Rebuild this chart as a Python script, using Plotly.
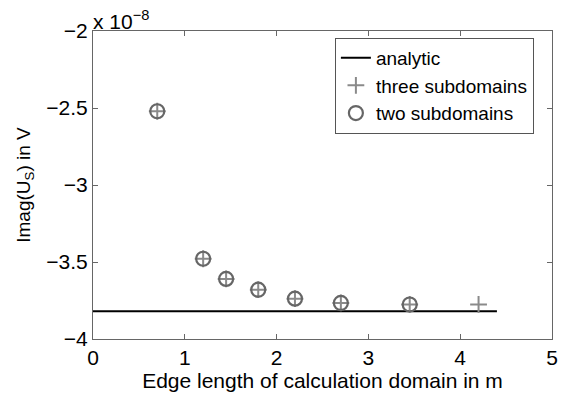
import plotly.graph_objects as go

# Data (values in V)
x_two = [0.7, 1.2, 1.45, 1.8, 2.2, 2.7, 3.45]
y_two = [-2.521e-8, -3.479e-8, -3.610e-8, -3.680e-8, -3.738e-8, -3.766e-8, -3.776e-8]
x_three = [0.7, 1.2, 1.45, 1.8, 2.2, 2.7, 3.45, 4.2]
y_three = [-2.521e-8, -3.479e-8, -3.610e-8, -3.680e-8, -3.738e-8, -3.766e-8, -3.776e-8, -3.776e-8]
x_analytic = [0.0, 4.4]
y_analytic = [-3.819e-8, -3.819e-8]

x_ticks = [0, 1, 2, 3, 4, 5]
y_ticks = [-4e-8, -3.5e-8, -3e-8, -2.5e-8, -2e-8]
y_ticktext = ["\u22124", "\u22123.5", "\u22123", "\u22122.5", "\u22122"]

FONT = "Liberation Sans, Arial, Helvetica, sans-serif"

fig = go.Figure()
fig.add_trace(go.Scatter(x=x_analytic, y=y_analytic, mode="lines", name="analytic",
                         line=dict(color="black", width=2)))
fig.add_trace(go.Scatter(x=x_three, y=y_three, mode="markers", name="three subdomains",
                         marker=dict(symbol="cross-thin-open", size=12, color="#8a8a8a",
                                     line=dict(color="#8a8a8a", width=2))))
fig.add_trace(go.Scatter(x=x_two, y=y_two, mode="markers", name="two subdomains",
                         marker=dict(symbol="circle-open", size=14, color="#666666",
                                     line=dict(color="#666666", width=2.2))))

axis_common = dict(ticks="inside", ticklen=5, tickcolor="#666", mirror="allticks",
                   showline=True, linecolor="#666", linewidth=1, showgrid=False,
                   zeroline=False, tickfont=dict(family=FONT, size=21, color="black"))

fig.update_layout(
    width=570, height=396,
    margin=dict(l=93, r=14, t=31, b=52),
    paper_bgcolor="white", plot_bgcolor="white",
    font=dict(family=FONT, size=21, color="black"),
    showlegend=True,
    legend=dict(x=0.527, y=0.978, xanchor="left", yanchor="top",
                bordercolor="#555", borderwidth=1, bgcolor="white",
                font=dict(family=FONT, size=19), tracegroupgap=0,
                itemwidth=30),
    xaxis=dict(range=[0, 5], tickvals=x_ticks,
               title=dict(text="Edge length of calculation domain in m", standoff=0,
                          font=dict(family=FONT, size=21)),
               **axis_common),
    yaxis=dict(range=[-4e-8, -2e-8], tickvals=y_ticks, ticktext=y_ticktext,
               title=dict(text="Imag(U<sub>S</sub>) in V", standoff=10,
                          font=dict(family=FONT, size=19)),
               **axis_common),
    annotations=[dict(text="x 10<sup>\u22128</sup>", xref="paper", yref="paper",
                      x=0.0, y=1.0, xanchor="left", yanchor="bottom", showarrow=False,
                      xshift=-2, yshift=-4,
                      font=dict(family=FONT, size=21, color="black"))],
)

fig.write_html("out.html")
